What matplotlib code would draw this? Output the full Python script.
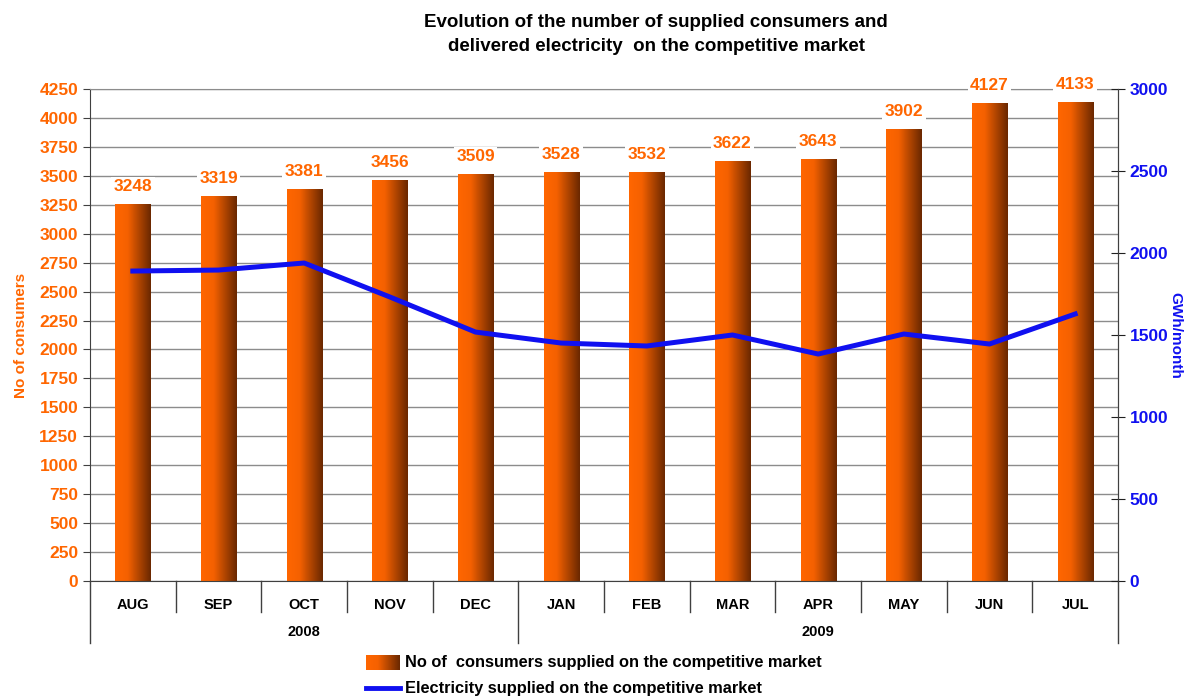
import numpy as np
import matplotlib
matplotlib.use("Agg")
import matplotlib.pyplot as plt
from matplotlib.colors import LinearSegmentedColormap
from matplotlib.lines import Line2D

plt.rcParams['font.family'] = ['Liberation Sans', 'DejaVu Sans']
plt.rcParams['font.weight'] = 'bold'

months = ["AUG", "SEP", "OCT", "NOV", "DEC", "JAN", "FEB", "MAR", "APR", "MAY", "JUN", "JUL"]
years = ["2008", "2009"]
year_counts = [5, 7]
consumers = [3248, 3319, 3381, 3456, 3509, 3528, 3532, 3622, 3643, 3902, 4127, 4133]
electricity = [1890, 1896, 1939, 1732, 1518, 1451, 1433, 1500, 1384, 1506, 1445, 1628]

title = "Evolution of the number of supplied consumers and\ndelivered electricity  on the competitive market"
bar_label = "No of  consumers supplied on the competitive market"
line_label = "Electricity supplied on the competitive market"

ORANGE = "#FF6600"
BLUE = "#1010F0"
W, H = 1186, 697

fig = plt.figure(figsize=(W / 100, H / 100), dpi=100)
L, R, T, B = 90, 1118, 89, 581
ax = fig.add_axes([L / W, 1 - B / H, (R - L) / W, (B - T) / H])

cmap = LinearSegmentedColormap.from_list("bar", [(0, "#FF6600"), (0.35, "#F56100"), (1, "#6A2800")])
grad = np.linspace(0, 1, 64).reshape(1, -1)

x = np.arange(len(months))
bw = 0.41
ax.yaxis.grid(True, color="#8c8c8c", lw=1)
ax.set_axisbelow(True)

bars = ax.bar(x, consumers, width=bw, color="none", edgecolor="none", zorder=2)
for b in bars:
    x0, y0 = b.get_x(), b.get_y()
    ax.imshow(grad, cmap=cmap, aspect="auto", extent=[x0, x0 + b.get_width(), y0, y0 + b.get_height()],
              zorder=2, interpolation="bicubic")
ax.set_xlim(-0.5, len(months) - 0.5)
ax.set_ylim(0, 4250)
ax.set_yticks(np.arange(0, 4251, 250))

for xi, v in zip(x, consumers):
    ax.annotate(str(v), (xi, v), xytext=(0, 13), textcoords="offset points", ha="center", va="center",
                color=ORANGE, fontsize=12.5, fontweight="bold",
                bbox=dict(boxstyle="square,pad=0.15", fc="white", ec="none"), zorder=3)

for s in ["left", "bottom", "right"]:
    ax.spines[s].set_color("#404040")
ax.spines["top"].set_color("#8c8c8c")
ax.tick_params(axis="y", colors="#404040", labelcolor=ORANGE, labelsize=12.5, length=5, direction="out")
ax.set_xticks(x)
ax.set_xticklabels(months, fontsize=10.5, fontweight="bold")
ax.tick_params(axis="x", length=0, pad=12)
ax.set_ylabel("No of consumers", color=ORANGE, fontsize=11, fontweight="bold", labelpad=8)

# category separators
tr = ax.get_xaxis_transform()
h1 = 31 / (B - T)
h2 = 62 / (B - T)
bounds = np.cumsum([0] + year_counts)
for i in range(len(months) + 1):
    depth = h2 if i in bounds else h1
    ax.plot([i - 0.5, i - 0.5], [0, -depth], transform=tr, color="#404040", lw=1, clip_on=False)
for yname, a, bnd in zip(years, bounds[:-1], bounds[1:]):
    ax.text((a + bnd - 1) / 2, -51 / (B - T), yname, transform=tr, ha="center", va="center",
            fontsize=10.5, fontweight="bold")

ax2 = ax.twinx()
ax2.plot(x, electricity, color=BLUE, lw=3.6, zorder=4)
ax2.set_ylim(0, 3000)
ax2.set_yticks(np.arange(0, 3001, 500))
ax2.tick_params(axis="y", colors="#202020", labelcolor=BLUE, labelsize=12.5, length=10, direction="inout")
ax2.set_ylabel("GWh/month", color=BLUE, fontsize=11, fontweight="bold", rotation=-90, labelpad=10)
for s in ["left", "bottom", "top"]:
    ax2.spines[s].set_visible(False)
ax2.spines["right"].set_color("#404040")

fig.text(656 / W, 1 - 34.5 / H, title, ha="center", va="center", fontsize=13.5, fontweight="bold",
         linespacing=1.6)

# legend
lax = fig.add_axes([366 / W, 1 - 670 / H, 34 / W, 15 / H])
lax.imshow(grad, cmap=cmap, aspect="auto", interpolation="bicubic")
lax.axis("off")
fig.text(405 / W, 1 - 662 / H, bar_label, ha="left", va="center", fontsize=11.8, fontweight="bold")
fig.add_artist(Line2D([366 / W, 400 / W], [1 - 688 / H, 1 - 688 / H], color=BLUE, lw=3.5,
                      transform=fig.transFigure))
fig.text(405 / W, 1 - 689 / H, line_label, ha="left", va="center", fontsize=11.8, fontweight="bold")

fig.savefig("out.png", dpi=100, facecolor="white")
